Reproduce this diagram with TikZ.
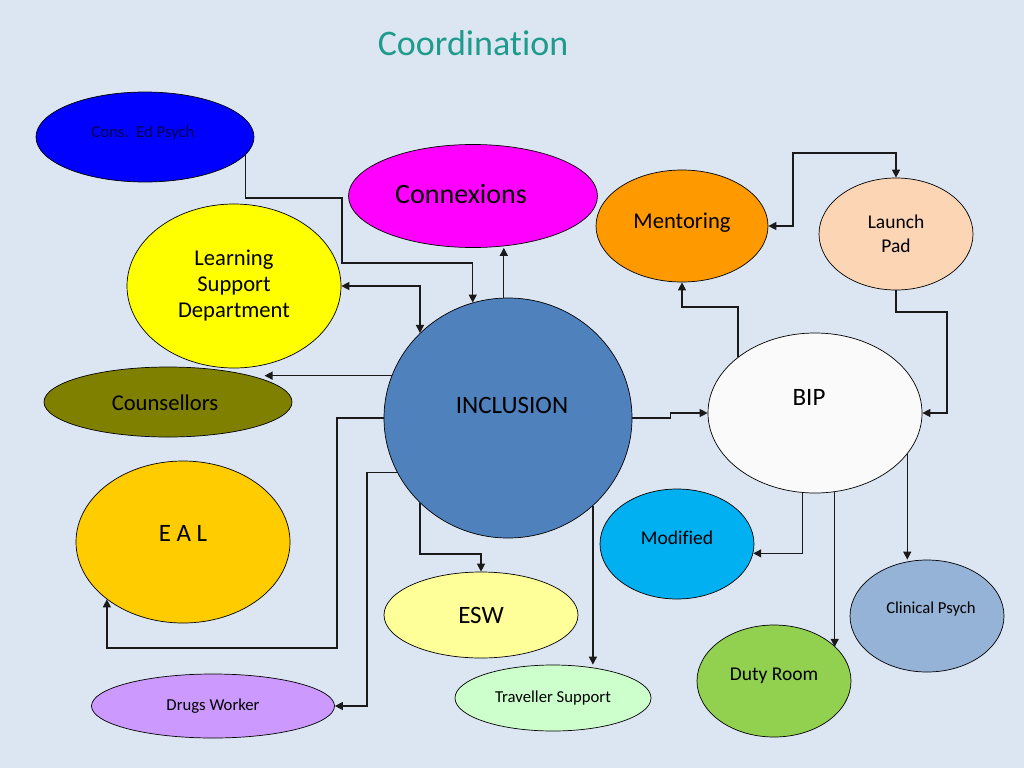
\documentclass[tikz,border=0pt]{standalone}
\usepackage{fontspec}
\setmainfont{Carlito}[Ligatures=NoCommon]
\usepackage{tikz}
\usetikzlibrary{arrows.meta,shapes.geometric}
\definecolor{bgpale}{HTML}{DCE6F2}
\definecolor{titleteal}{HTML}{1F9B8C}
\definecolor{consblue}{HTML}{0000FF}
\definecolor{conxpink}{HTML}{FF00FF}
\definecolor{lsdyellow}{HTML}{FFFF00}
\definecolor{counsolive}{HTML}{808000}
\definecolor{inclblue}{HTML}{4F81BD}
\definecolor{ealgold}{HTML}{FFCC00}
\definecolor{drugslilac}{HTML}{CC99FF}
\definecolor{eswcream}{HTML}{FFFF99}
\definecolor{travmint}{HTML}{CCFFCC}
\definecolor{modcyan}{HTML}{00B0F0}
\definecolor{dutygreen}{HTML}{92D050}
\definecolor{clinsteel}{HTML}{95B3D7}
\definecolor{bipwhite}{HTML}{FAFAFA}
\definecolor{mentorange}{HTML}{FF9900}
\definecolor{lppeach}{HTML}{FCD5B5}
\definecolor{linegrey}{HTML}{1A1A1A}
\definecolor{consink}{HTML}{00004D}

\begin{document}
\begin{tikzpicture}[
  x=1pt,y=-1pt,
  bub/.style n args={2}{ellipse,draw=black,line width=0.7pt,inner sep=0pt,
              minimum width=#1,minimum height=#2},
  fA/.style={font=\fontsize{25}{29}\selectfont},
  fB/.style={font=\fontsize{22.6}{26}\selectfont,align=center},
  fC/.style={font=\fontsize{19.5}{24}\selectfont,align=center},
  fD/.style={font=\fontsize{16.7}{20}\selectfont},
  ar/.style={-{Triangle[length=8pt,width=8pt]},draw=linegrey,line width=1.3pt},
  arr/.style={{Triangle[length=8pt,width=8pt]}-{Triangle[length=8pt,width=8pt]},
              draw=linegrey,line width=1.3pt}
]
\fill[bgpale] (0,0) rectangle (1024,768);
\useasboundingbox (0,0) rectangle (1024,768);

\node[font=\fontsize{36}{40}\selectfont,text=titleteal] (title) at (473,43) {Coordination};

% left hand side
\node[bub={218pt}{90pt},fill=consblue,
      label={[fD,text=consink,yshift=4pt,xshift=-2pt]center:Cons.\ \ Ed Psych}] (cons) at (145,137) {};
\node[bub={249pt}{103pt},fill=conxpink,
      label={[font=\fontsize{28}{32}\selectfont,yshift=2pt,xshift=-12pt]center:Connexions}] (conx) at (473,196) {};
\node[bub={214pt}{164pt},fill=lsdyellow,fB] (lsd) at (234,286) {Learning\\Support\\Department};
\node[bub={248pt}{70pt},fill=counsolive,
      label={[fB,yshift=-1pt,xshift=-3pt]center:Counsellors}] (couns) at (168,402) {};
\node[bub={214pt}{162pt},fill=ealgold,
      label={[fA,yshift=9pt]center:E A L}] (eal) at (183,542) {};
\node[bub={243pt}{64pt},fill=drugslilac,fD] (drugs) at (213,706) {Drugs Worker};

% centre
\node[bub={248pt}{240pt},fill=inclblue,
      label={[fA,yshift=13pt,xshift=4pt]center:INCLUSION}] (incl) at (508,418) {};
\node[bub={194pt}{86pt},fill=eswcream,fA] (esw) at (481,615) {ESW};
\node[bub={196pt}{66pt},fill=travmint,fD] (trav) at (553,698) {Traveller Support};

% right hand side
\node[bub={172pt}{112pt},fill=mentorange,
      label={[fB,yshift=3pt]center:Mentoring}] (ment) at (682,226) {};
\node[bub={154pt}{112pt},fill=lppeach,fC] (lp) at (896,234) {Launch\\Pad};
\node[bub={214pt}{160pt},fill=bipwhite,
      label={[fA,yshift=16pt,xshift=-6pt]center:BIP}] (bip) at (815,413) {};
\node[bub={154pt}{110pt},fill=modcyan,
      label={[fC,yshift=6pt]center:Modified}] (mod) at (677,544) {};
\node[bub={154pt}{112pt},fill=dutygreen,
      label={[fC,yshift=5pt]center:Duty Room}] (duty) at (774,681) {};
\node[bub={154pt}{112pt},fill=clinsteel,
      label={[fD,yshift=7pt,xshift=4pt]center:Clinical Psych}] (clin) at (927,616) {};

% connectors
\draw[ar] (cons.-10) |- (342,198) -- (342,263) -| (incl.107);
\draw[ar] (incl.92) -- (incl.92 |- conx.south);
\draw[arr] (lsd.east) -| (incl.136);
\draw[ar] (incl.160) -- (incl.160 -| couns.13);
\draw[ar] (incl.west) -| (337,648) -| (eal.217);
\draw[ar] (incl.206) -| (367,706) -- (drugs.east);
\draw[ar] (incl.224) |- (481,554) -- (esw.north);
\draw[ar] (incl.-46) -- (incl.-46 |- trav.north);
\draw[ar] (incl.east) -- ++(38,0) |- (bip.west);
\draw[ar] (bip.144) |- (682,307) -- (ment.south);
\draw[arr] (ment.east) -| (793,153) -| (lp.north);
\draw[ar] (lp.south) |- (947,312) |- (bip.east);
\draw[ar] (bip.261) |- (mod.-7);
\draw[ar] (bip.-76) -- (bip.-76 |- duty.29);
\draw[ar] (bip.-24) -- (bip.-24 |- clin.north);
\end{tikzpicture}
\end{document}
